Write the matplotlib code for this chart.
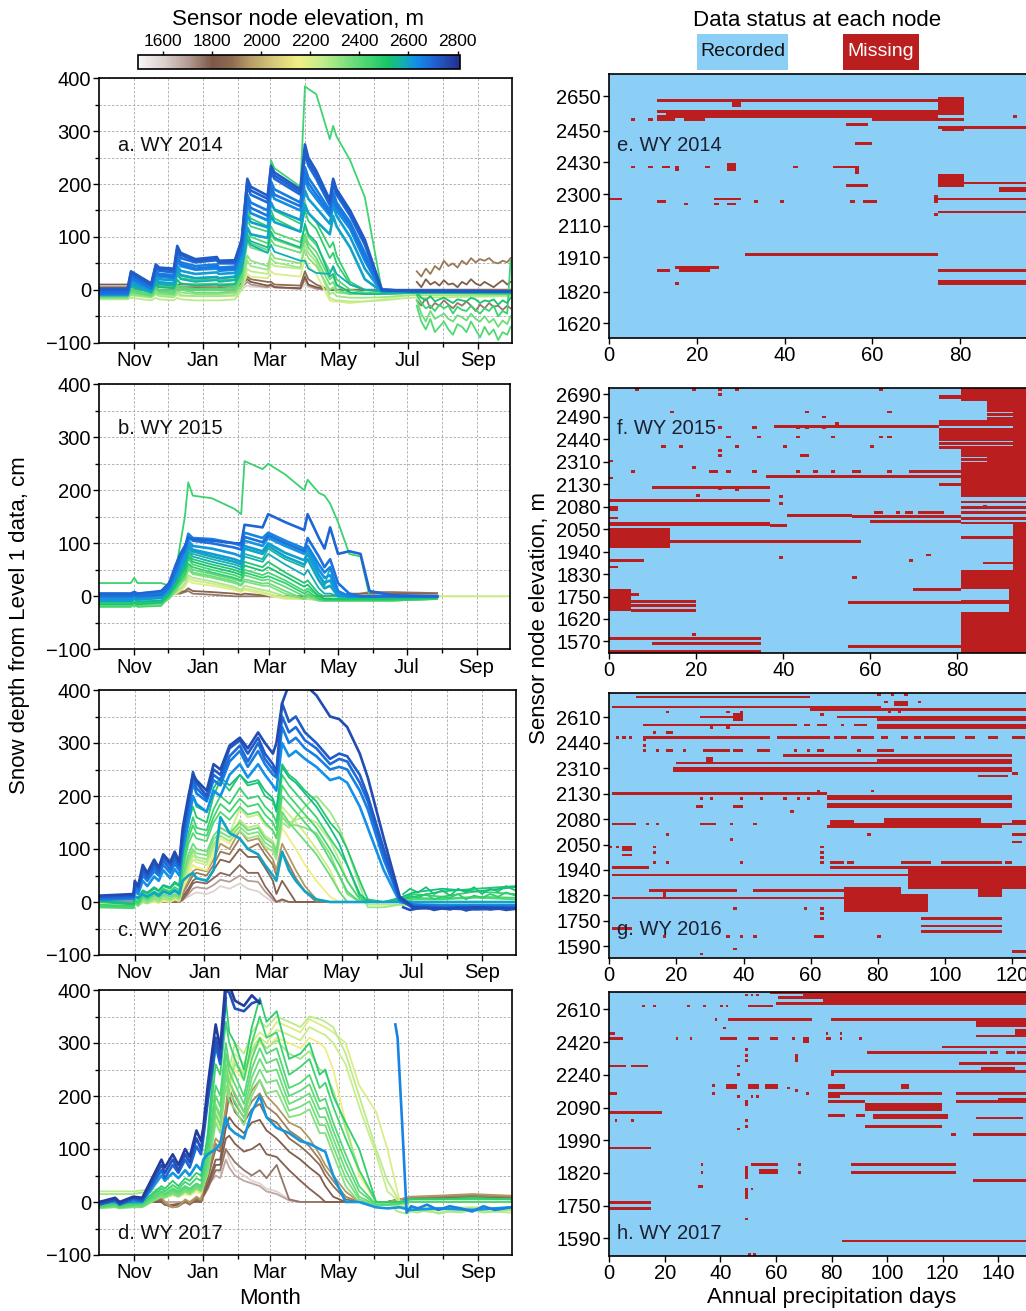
import numpy as np
import matplotlib
matplotlib.use('Agg')
import matplotlib.pyplot as plt
from matplotlib.colors import LinearSegmentedColormap, ListedColormap, Normalize
from matplotlib.patches import Rectangle
from matplotlib.ticker import FixedLocator, MultipleLocator

plt.rcParams['font.family'] = ['Liberation Sans', 'DejaVu Sans']
N = None

# ---------------- snow depth series (day of water year, cm) ----------------
wy14_days = [0, 25, 28, 46, 50, 53, 66, 69, 72, 85, 104, 106, 120, 126, 131, 134,
             149, 152, 155, 178, 182, 185, 192, 204, 207, 210, 222, 235, 250, 275, 364]
wy14_elev = [1600, 1720, 1800, 1880, 2200, 2260, 2300, 2330, 2380, 2400, 2420, 2450,
             2470, 2480, 2540, 2580, 2600, 2610, 2640, 2660, 2670, 2690, 2710, 2720]
wy14_depth = [
    [0, 0, 0, 0, 0, 0, 0, 0, 0, 0, 0, 0, 0, 2, 8, 6, 4, 6, 4, 2, 10, 5, 2, 0, 0, 0, 0, 0, 0, 0, 0],
    [0, 0, 0, 0, 0, 0, 0, 0, 0, 0, 0, 0, 0, 5, 15, 10, 5, 8, 5, 2, 20, 8, 2, 0, 0, 0, 0, 0, 0, 0, 0],
    [10, 10, 10, 10, 10, 10, 10, 10, 10, 10, 10, 10, 10, 12, 20, 15, 8, 10, 5, 3, 25, 10, 5, 0, 0, 0, 0, 0, 0, 0, 0],
    [5, 5, 5, 5, 5, 5, 5, 5, 5, 5, 5, 5, 5, 10, 25, 20, 15, 15, 10, 8, 35, 20, 10, 0, 0, 0, 0, 0, 0, 0, 0],
    [-10, -10, -10, -12, -8, -10, -12, -10, -12, -12, -12, -12, -12, 0, 30, 25, 22, 35, 30, 25, 60, 45, 30, -20, -22, -22, -25, -22, -18, -10, -10],
    [-18, -18, -15, -20, -15, -18, -20, -15, -18, -20, -20, -20, -18, 0, 40, 35, 30, 50, 45, 40, 100, 80, 60, -15, -18, -20, -22, -22, -20, -15, -12],
    [-15, -15, -10, -15, -8, -12, -14, -6, -10, -12, -12, -12, -10, 5, 55, 45, 38, 60, 52, 42, 85, 70, 52, -8, -5, -12, -15, -15, -14, -10, -10],
    [-12, -12, -8, -12, -5, -8, -10, -2, -5, -8, -8, -8, -6, 10, 65, 55, 45, 70, 60, 50, 75, 60, 45, 0, 5, -5, -8, -8, -8, -6, -6],
    [-15, -15, -5, -12, 0, -5, -8, 5, 0, -5, -5, -5, -3, 20, 90, 80, 70, 95, 85, 70, 95, 80, 60, 10, 15, 0, -8, -8, -8, -6, -6],
    [-12, -12, -3, -10, 2, -3, -5, 8, 3, 0, 0, 0, 2, 25, 100, 88, 75, 105, 95, 78, 105, 88, 72, 20, 25, 8, -6, -7, -7, -6, -6],
    [-10, -10, 0, -8, 5, 0, -2, 10, 5, 2, 3, 2, 5, 30, 115, 100, 88, 120, 108, 90, 120, 100, 85, 35, 40, 20, 0, -5, -5, -5, -5],
    [0, 0, 5, -2, 10, 5, 5, 20, 12, 10, 12, 10, 12, 40, 130, 120, 110, 245, 230, 195, 385, 380, 370, 285, 310, 290, 245, 175, 0, -5, -8],
    [-3, -3, 12, 0, 20, 15, 12, 35, 26, 22, 25, 22, 24, 50, 160, 145, 130, 165, 150, 125, 165, 145, 128, 80, 90, 65, 15, 0, -3, -4, -5],
    [-5, -5, 10, -3, 18, 12, 10, 30, 22, 18, 20, 18, 20, 45, 150, 135, 120, 150, 135, 110, 150, 130, 115, 60, 70, 50, 10, 0, -3, -4, -5],
    [-8, -8, 5, -5, 10, 5, 3, 18, 12, 8, 10, 8, 10, 35, 105, 92, 80, 110, 98, 80, 125, 105, 90, 25, 30, 10, -5, -8, -8, -6, -6],
    [-6, -6, 8, -5, 15, 10, 8, 28, 20, 15, 18, 15, 18, 40, 95, 85, 70, 85, 72, 55, 55, 40, 32, 30, 45, 30, 10, 0, -2, -3, -3],
    [-5, -5, 12, -2, 20, 14, 12, 38, 28, 22, 24, 22, 25, 50, 118, 105, 98, 140, 128, 110, 160, 145, 130, 105, 140, 120, 80, 20, -3, -3, -4],
    [-10, -10, 15, 0, 25, 20, 18, 45, 36, 30, 33, 30, 32, 60, 140, 128, 118, 165, 152, 132, 188, 172, 155, 125, 160, 140, 100, 40, -3, -3, -4],
    [-8, -8, 20, 2, 30, 25, 22, 55, 45, 38, 40, 36, 38, 70, 160, 145, 132, 185, 172, 150, 210, 192, 172, 140, 172, 150, 115, 55, -2, -3, -3],
    [-6, -6, 25, 5, 35, 30, 28, 62, 52, 45, 48, 42, 44, 80, 180, 165, 150, 205, 190, 165, 232, 212, 190, 150, 185, 165, 128, 70, 0, -2, -3],
    [-7, -7, 22, 3, 32, 28, 25, 58, 48, 40, 44, 40, 40, 75, 170, 155, 140, 195, 180, 158, 220, 202, 180, 145, 178, 158, 122, 62, -1, -2, -3],
    [-4, -4, 28, 8, 40, 36, 33, 72, 60, 52, 56, 50, 50, 88, 195, 180, 165, 222, 210, 180, 258, 235, 210, 160, 200, 180, 140, 85, 0, -2, -3],
    [0, 0, 32, 10, 45, 40, 37, 78, 66, 55, 58, 52, 53, 92, 205, 188, 172, 230, 216, 185, 265, 242, 218, 165, 205, 185, 145, 90, 0, -2, -3],
    [2, 2, 35, 12, 48, 42, 40, 83, 70, 58, 62, 55, 56, 95, 210, 195, 178, 235, 222, 190, 275, 250, 225, 170, 210, 190, 150, 95, 0, -2, -3],
]
wy14_late_days = [281, 285, 289, 293, 297, 301, 305, 309, 313, 317, 321, 325, 329,
                  333, 337, 341, 345, 349, 353, 357, 361, 364]
wy14_late_elev = [1760, 1820, 1900, 2380, 2420, 2460, 2520]
wy14_late_depth = [
    [-20, -30, -15, -35, -25, -30, -20, -28, -35, -25, -30, -22, -30, -40, -28, -35, -25, -32, -30, -38, -30, -35],
    [15, 5, 20, 10, 15, 8, 18, 10, 12, 5, 15, 10, 20, 12, 8, 15, 10, 5, 12, 18, 10, 15],
    [35, 25, 40, 30, 45, 38, 55, 45, 50, 42, 55, 48, 60, 52, 58, 55, 60, 52, 50, 55, 52, 60],
    [-20, -45, -60, -40, -55, -50, -45, -55, -60, -48, -52, -58, -45, -55, -60, -50, -62, -55, -70, -58, -65, -50],
    [-30, -60, -75, -55, -80, -70, -60, -75, -85, -65, -70, -80, -60, -75, -90, -70, -85, -75, -95, -80, -85, -70],
    [-10, -25, -35, -30, -40, -28, -35, -30, -45, -32, -38, -40, -30, -38, -45, -35, -40, -30, -50, -40, -45, 55],
    [-5, -15, -20, -12, -22, -18, -15, -20, -25, -18, -20, -22, -15, -18, -25, -20, -22, -18, -28, -20, -25, -15],
]

wy15_days = [0, 28, 31, 34, 55, 62, 68, 72, 76, 79, 83, 100, 120, 126, 129, 145,
             150, 165, 182, 185, 195, 200, 205, 212, 222, 232, 240, 260, 300, 364]
wy15_elev = [1760, 1850, 2180, 2230, 2280, 2350, 2380, 2400, 2440, 2460, 2470, 2500,
             2520, 2560, 2580, 2600, 2610, 2620, 2650, 2680, 2700]
wy15_depth = [
    [0, 0, 0, 0, 0, 2, 5, 5, 8, 10, 5, 3, 0, 0, 0, 0, 0, 0, 0, 0, 0, 0, 0, 2, 5, 5, 8, 8, 6, N],
    [0, 0, 0, 0, 0, 2, 5, 8, 10, 15, 10, 8, 5, 3, 5, 2, 0, 0, 0, 0, 0, 0, 0, 0, 2, 5, 5, 5, 5, N],
    [-5, -5, -5, -5, -5, 0, 5, 10, 18, 30, 25, 20, 12, 8, 12, 5, 2, -5, -5, -5, -5, -5, -5, -5, -5, -3, -3, -2, 0, 0],
    [-3, -3, -3, -3, -3, 2, 6, 12, 20, 35, 30, 24, 15, 10, 15, 8, 5, -3, -5, -5, -5, -5, -5, -5, -5, -3, -3, -2, 0, 0],
    [-8, -8, -8, -8, -8, 0, 8, 15, 25, 40, 35, 28, 18, 12, 20, 12, 10, 0, -5, -5, -8, -8, -8, -8, -8, -8, -8, -8, -5, N],
    [-15, -15, -20, -15, -15, -5, 10, 22, 32, 50, 42, 35, 25, 20, 28, 20, 20, 5, -5, 0, -8, -8, -8, -8, -8, -8, -8, -8, -5, N],
    [-18, -18, -15, -18, -15, -3, 12, 25, 35, 55, 45, 38, 28, 22, 32, 24, 25, 10, -5, 0, -8, -8, -8, -8, -8, -8, -8, -8, -5, N],
    [-10, -10, -8, -10, -10, -2, 15, 28, 40, 60, 50, 42, 32, 28, 40, 30, 32, 18, 0, 5, -5, -5, -5, -5, -5, -5, -5, -5, -2, N],
    [-20, -20, -15, -20, -18, 0, 20, 35, 48, 70, 60, 50, 40, 35, 50, 40, 45, 30, 10, 15, 0, -5, -5, -5, -5, -5, -5, -5, -3, N],
    [25, 25, 35, 25, 25, 20, 50, 100, 150, 215, 190, 185, 165, 155, 255, 240, 250, 230, 200, 220, 195, 190, 175, 140, 80, 75, 0, 0, 0, N],
    [-12, -12, -10, -12, -10, 2, 18, 30, 42, 62, 55, 45, 35, 30, 45, 35, 38, 25, 5, 10, -5, -8, -8, -8, -8, -8, -8, -8, -5, N],
    [-5, -5, -5, -5, -3, 5, 25, 40, 55, 80, 70, 60, 50, 45, 65, 55, 65, 45, 25, 30, 5, 0, 0, 0, -3, -3, -3, -3, -3, N],
    [-15, -15, -12, -15, -12, 3, 22, 38, 52, 75, 65, 55, 45, 40, 58, 48, 55, 38, 18, 22, 0, -5, -5, -5, -5, -5, -5, -5, -3, N],
    [-10, -10, -5, -10, -8, 8, 30, 50, 65, 90, 80, 70, 60, 55, 80, 70, 90, 70, 55, 90, 40, 20, 55, 5, 0, 0, 0, 0, 0, N],
    [0, 0, 2, 0, 2, 10, 30, 45, 60, 85, 75, 65, 55, 50, 75, 65, 80, 60, 40, 50, 15, 5, 5, 0, 0, 0, 0, 0, 0, N],
    [5, 5, 8, 5, 8, 20, 40, 55, 70, 95, 85, 75, 65, 60, 90, 80, 95, 75, 60, 70, 30, 15, 20, 0, 0, 0, 0, 0, 0, N],
    [-8, -8, -3, -6, -3, 12, 35, 55, 72, 98, 88, 80, 70, 65, 95, 85, 100, 82, 68, 80, 40, 25, 30, 2, 0, 0, 0, 0, 0, N],
    [-5, -5, 0, -3, 0, 15, 35, 60, 80, 105, 95, 90, 80, 75, 105, 95, 110, 95, 80, 90, 50, 35, 40, 5, 0, 0, 0, 0, 0, N],
    [0, 0, 5, 2, 5, 20, 45, 70, 90, 118, 110, 108, 100, 95, 120, 110, 120, 105, 90, 95, 60, 45, 55, 10, 0, 0, 0, 0, 0, N],
    [0, 0, 3, 0, 3, 18, 50, 72, 88, 112, 105, 100, 92, 88, 112, 102, 115, 100, 85, 110, 75, 55, 70, 25, 5, 0, 0, 0, 0, N],
    [5, 5, 8, 5, 10, 25, 60, 80, 95, 110, 108, 105, 100, 100, 135, 130, 155, 140, 125, 155, 110, 90, 130, 80, 85, 80, 10, 2, 0, N],
]

wy16_days = [0, 30, 31, 34, 38, 42, 48, 52, 56, 62, 66, 70, 73, 78, 82, 85, 94, 100,
             106, 114, 123, 130, 139, 145, 152, 155, 160, 166, 172, 180, 190, 202,
             210, 217, 228, 235, 249, 263, 275, 300, 330, 364]
wy16_elev = [1600, 1700, 1780, 1840, 1900, 1950, 2150, 2220, 2260, 2300, 2340, 2380,
             2420, 2440, 2460, 2500, 2540, 2600, 2630, 2660, 2690, 2720, 2750]
wy16_depth = [
    [0, 0, 0, 0, 0, 0, 0, 0, 0, 0, 0, 0, 5, 10, 15, 18, 15, 20, 30, 25, 35, 25, 20, 10, 0, 0, 5, 0, 0, 0, 0, 0, 0, 0, 0, 0, 0, 0, 0, 0, 0, 0],
    [0, 0, 0, 0, 0, 0, 0, 0, 0, 0, 0, 0, 3, 15, 25, 28, 25, 32, 42, 38, 50, 40, 38, 20, 5, 0, 3, 0, 0, 0, 0, 0, 0, 0, 0, 0, 0, 0, 0, 0, 0, 0],
    [0, 0, 0, 0, 0, 0, 0, 0, 0, 0, 0, 0, 5, 20, 35, 38, 35, 45, 55, 50, 70, 55, 55, 30, 10, 0, 5, 0, 0, 0, 0, 0, 0, 0, 0, 0, 0, 0, 0, 0, 0, 0],
    [0, 0, 0, 0, 0, 0, 0, 0, 0, 0, 0, 0, 10, 25, 40, 45, 40, 60, 80, 75, 100, 85, 85, 65, 40, 15, 40, 20, 0, 0, 0, 0, 0, 0, 0, 0, 0, 0, 0, 0, 0, 0],
    [0, 0, 0, 0, 0, 0, 0, 0, 0, 0, 2, 0, 15, 35, 50, 55, 50, 70, 95, 90, 120, 100, 110, 90, 70, 50, 95, 70, 45, 20, 0, 0, 0, 0, 0, 0, 0, 0, 0, 0, 0, 0],
    [0, 0, 0, 0, 0, 0, 0, 0, 0, 0, 3, 0, 18, 40, 58, 62, 58, 80, 110, 100, 135, 115, 120, 100, 80, 60, 110, 85, 60, 30, 5, 0, 0, 0, 0, 0, 0, 0, 0, 0, 0, 0],
    [-3, -3, -2, -3, 0, -2, 0, -2, 2, 0, 5, 2, 25, 50, 70, 65, 60, 90, 120, 110, 150, 140, 145, 125, 110, 90, 140, 120, 100, 70, 40, 10, 0, 0, 0, 0, 0, 0, 0, 0, 0, 0],
    [-5, -5, -2, -5, 0, -2, 2, 0, 5, 2, 8, 3, 30, 60, 80, 75, 70, 100, 140, 130, 175, 160, 165, 145, 135, 120, 180, 165, 150, 130, 100, 60, 20, 0, 0, 0, 0, 0, 0, 0, 0, 0],
    [-8, -8, -4, -6, 0, -2, 4, 0, 6, 2, 9, 4, 35, 68, 88, 80, 75, 105, 132, 122, 155, 140, 145, 125, 115, 100, 165, 150, 155, 160, 150, 115, 80, 40, 5, -5, -5, -5, -5, -5, -5, -5],
    [-10, -10, -5, -8, 0, -3, 5, 0, 8, 3, 10, 5, 40, 75, 95, 85, 80, 110, 125, 115, 135, 120, 125, 105, 95, 80, 150, 140, 160, 180, 200, 170, 140, 100, 30, -10, -10, -5, -5, -5, -5, -5],
    [-10, -10, -3, -6, 4, 0, 8, 4, 12, 6, 12, 8, 45, 82, 100, 92, 88, 118, 132, 122, 142, 128, 132, 112, 102, 88, 160, 145, 145, 140, 130, 90, 50, 15, 0, 0, 0, 0, 0, 0, 0, 0],
    [-8, -10, 0, -3, 8, 3, 12, 8, 15, 10, 15, 10, 50, 90, 110, 100, 95, 125, 140, 130, 150, 135, 140, 120, 110, 95, 170, 150, 135, 115, 90, 50, 20, 0, 0, 0, 0, 0, 0, 0, 0, 0],
    [-10, -12, 0, -5, 10, 5, 15, 10, 20, 15, 20, 15, 60, 110, 130, 120, 115, 150, 170, 155, 180, 165, 170, 150, 135, 120, 200, 185, 170, 150, 125, 80, 50, 20, 0, 0, 0, 0, 5, 5, 8, 5],
    [-8, -10, 3, -2, 12, 8, 18, 12, 22, 18, 24, 18, 70, 120, 145, 130, 125, 160, 185, 170, 195, 180, 185, 165, 150, 135, 220, 200, 185, 165, 140, 100, 70, 40, 5, 0, 0, 3, 8, 6, 10, 8],
    [-5, -8, 5, 0, 15, 10, 20, 15, 25, 20, 28, 22, 80, 130, 160, 140, 135, 175, 200, 185, 215, 195, 200, 180, 165, 150, 240, 220, 205, 185, 160, 120, 95, 70, 10, 0, 0, 5, 15, 10, 20, 15],
    [0, -5, 10, 5, 20, 15, 25, 20, 30, 25, 35, 30, 100, 150, 180, 160, 150, 200, 230, 210, 240, 220, 225, 200, 190, 170, 260, 240, 230, 210, 190, 150, 130, 100, 40, 5, 0, 5, 10, 20, 25, 30],
    [2, -3, 12, 8, 22, 18, 28, 22, 32, 28, 38, 32, 110, 165, 200, 180, 170, 215, 235, 220, 240, 225, 230, 210, 195, 175, 255, 235, 225, 205, 180, 140, 110, 70, 15, 2, 0, 8, 18, 25, 20, 28],
    [5, 5, 10, 8, 15, 10, 18, 12, 20, 15, 22, 15, 40, 50, 55, 45, 40, 60, 160, 130, 120, 100, 90, 70, 50, 40, 95, 60, 40, 20, 5, 0, 0, 0, 0, 0, 0, 0, 0, 0, 0, 0],
    [4, 6, 20, 15, 40, 30, 48, 40, 60, 45, 62, 50, 95, 150, 200, 185, 170, 210, 200, 240, 260, 235, 260, 240, 220, 210, 300, 275, 285, 270, 255, 230, 235, 225, 180, 140, 60, 0, -5, -6, -6, -6],
    [5, 8, 25, 20, 50, 40, 58, 50, 70, 55, 72, 60, 110, 170, 225, 205, 190, 230, 220, 265, 285, 255, 285, 260, 240, 235, 330, 300, 310, 290, 275, 250, 255, 250, 210, 175, 80, 5, -5, -8, -8, -8],
    [8, 10, 30, 25, 55, 45, 65, 55, 78, 62, 80, 65, 120, 180, 235, 215, 195, 240, 230, 275, 295, 265, 300, 270, 250, 240, 350, 320, 330, 305, 290, 260, 270, 265, 225, 190, 90, 5, -8, -10, -10, -10],
    [10, 12, 35, 28, 62, 50, 72, 60, 85, 70, 88, 70, 130, 190, 245, 225, 200, 250, 240, 290, 305, 280, 310, 280, 260, 245, 375, 340, 350, 320, 300, 270, 280, 275, 240, 200, 100, 5, -12, -12, -14, -12],
    [12, 15, 40, 30, 70, 55, 80, 65, 90, 75, 95, 75, 140, 200, 240, 230, 210, 260, 250, 295, 310, 290, 320, 300, 280, 300, 375, 410, 420, 410, 390, 350, 345, 330, 280, 235, 120, 10, -10, -12, -10, -12],
]
wy16_late_days = [266, 272, 279, 286, 293, 300, 307, 314, 321, 328, 335, 342, 349, 356, 364]
wy16_late_elev = [2480, 2520, 2740]
wy16_late_depth = [
    [5, 12, 8, 15, 5, 10, 8, 15, 5, 12, 8, 15, 10, 18, 12],
    [15, 25, 18, 28, 15, 22, 12, 25, 18, 28, 15, 25, 20, 30, 22],
    [-10, -15, -12, -10, -15, -12, -14, -10, -16, -12, -10, -14, -12, -15, -13],
]

wy17_days = [0, 14, 18, 30, 38, 55, 58, 65, 70, 76, 80, 86, 90, 92, 96, 103, 107, 112,
             115, 120, 128, 135, 142, 148, 157, 168, 178, 186, 195, 200, 207, 218,
             230, 245, 255, 266, 275, 300, 330, 364]
wy17_elev = [1600, 1680, 1760, 1790, 1820, 1880, 1910, 1950, 2150, 2200, 2230, 2260,
             2300, 2340, 2360, 2380, 2400, 2420, 2450, 2480, 2620, 2700, 2740, 2780]
wy17_depth = [
    [0, 0, 0, 0, 0, 0, 0, 0, 0, 0, 0, 5, 0, 20, 40, 60, 55, 100, 80, 60, 50, 40, 35, 25, 20, 5, 0, 0, 0, 0, 0, 0, 0, 0, 0, 0, 0, 0, 0, 0],
    [0, 0, 0, 0, 0, 0, 0, 0, 0, 0, 0, 3, 0, 15, 30, 50, 45, 80, 65, 50, 40, 35, 30, 20, 15, 3, 0, 0, 0, 0, 0, 0, 0, 0, 0, 0, 0, 0, 0, 0],
    [0, 0, 0, 0, 0, 0, -5, -5, -3, 0, 0, 0, 0, 10, 25, 60, 60, 100, 90, 75, 60, 50, 60, 45, 70, 5, 0, 0, 0, 0, 0, 0, 0, 0, 0, 5, 5, 8, 10, 8],
    [0, 0, 0, 0, 0, 0, -5, -6, -4, 0, -2, 2, 0, 12, 30, 70, 70, 120, 125, 110, 95, 100, 110, 90, 85, 60, 40, 25, 10, 0, 0, 0, 0, 0, 0, 5, 6, 8, 8, 8],
    [0, 0, 0, 0, 0, 2, -5, -8, -5, 0, -3, 3, 0, 15, 35, 80, 80, 140, 160, 145, 130, 150, 155, 135, 120, 95, 80, 65, 50, 30, 10, 0, 0, 0, 0, 5, 8, 10, 10, 10],
    [0, 0, 0, 0, 0, 5, -5, -10, -8, 0, -5, 5, 0, 20, 45, 100, 95, 160, 200, 170, 150, 175, 185, 160, 150, 120, 105, 90, 70, 50, 30, 5, 0, 0, 0, 5, 8, 10, 12, 10],
    [0, 0, 0, 0, 0, 8, -3, -10, -8, 3, -3, 8, 3, 25, 52, 110, 100, 170, 215, 185, 160, 190, 205, 180, 165, 135, 120, 105, 80, 60, 40, 10, 0, 0, 0, 5, 8, 10, 12, 10],
    [0, 0, 0, 0, 0, 10, 0, -10, -8, 5, 0, 10, 5, 30, 60, 120, 110, 180, 230, 200, 170, 210, 230, 200, 180, 150, 140, 120, 90, 70, 50, 20, 0, 0, 0, 5, 10, 12, 15, 12],
    [-8, -8, -8, -8, -8, 10, 8, 12, 10, 15, 12, 20, 15, 30, 55, 160, 140, 220, 200, 250, 230, 280, 300, 290, 310, 300, 290, 310, 300, 290, 250, 150, 50, 0, -5, -8, -10, -12, -10, -12],
    [-5, -5, -5, -5, -5, 15, 12, 18, 15, 22, 18, 28, 22, 40, 70, 180, 160, 250, 230, 280, 260, 300, 320, 310, 340, 330, 320, 345, 335, 330, 320, 300, 220, 170, 100, 0, -10, -15, -12, -15],
    [-5, -5, -5, -5, -5, 12, 10, 15, 12, 18, 15, 24, 18, 35, 62, 170, 150, 240, 215, 265, 245, 290, 310, 300, 325, 315, 305, 330, 320, 315, 300, 260, 180, 90, 20, 0, -10, -12, -10, -12],
    [20, 20, 20, 20, 22, 25, 20, 28, 22, 30, 25, 35, 30, 45, 80, 200, 180, 270, 250, 300, 280, 320, 340, 330, 350, 340, 330, 350, 345, 340, 330, 280, 200, 100, 40, 0, -15, -20, -15, -20],
    [15, 15, 15, 15, 18, 20, 16, 24, 18, 26, 22, 30, 26, 40, 72, 185, 165, 250, 225, 260, 240, 285, 305, 290, 305, 280, 270, 285, 250, 245, 210, 140, 60, 0, -5, -8, -12, -15, -12, -15],
    [-12, -10, -12, -10, -10, 10, 8, 15, 10, 20, 15, 25, 20, 30, 55, 150, 130, 220, 190, 175, 145, 200, 230, 205, 210, 160, 165, 175, 130, 130, 90, 30, 0, -5, -5, -3, 0, 0, 0, 0],
    [-10, -8, -10, -8, -8, 12, 10, 18, 12, 22, 18, 28, 22, 35, 62, 165, 145, 240, 205, 190, 158, 218, 250, 225, 230, 172, 180, 190, 145, 145, 105, 45, 5, -5, -5, -3, 0, 0, 0, 0],
    [-10, -8, -10, -8, -8, 15, 12, 20, 15, 25, 20, 30, 25, 40, 70, 180, 160, 260, 225, 205, 170, 235, 270, 245, 250, 185, 195, 205, 160, 160, 120, 60, 10, -5, -5, -3, 0, 0, 0, 0],
    [-10, -6, -10, -6, -6, 18, 14, 22, 18, 28, 22, 32, 28, 45, 80, 200, 180, 280, 245, 222, 185, 252, 290, 262, 270, 200, 210, 222, 175, 178, 135, 75, 20, -5, -5, -3, 0, 0, 0, 0],
    [-10, -5, -10, -5, -5, 20, 15, 25, 20, 30, 25, 35, 30, 50, 90, 220, 200, 300, 260, 240, 200, 270, 310, 280, 290, 215, 225, 240, 190, 195, 150, 90, 30, -5, -5, -3, 0, 0, 0, 0],
    [-8, -3, -8, -3, -3, 25, 20, 32, 25, 38, 32, 45, 40, 60, 110, 260, 240, 340, 300, 270, 230, 300, 350, 310, 320, 240, 255, 270, 215, 225, 180, 120, 60, 0, 0, 0, 5, 5, 5, 5],
    [-5, 0, -5, 0, 0, 30, 25, 40, 30, 45, 40, 55, 50, 70, 130, 300, 280, 380, 320, 300, 250, 330, 385, 340, 360, 270, 280, 300, 240, 250, 200, 150, 100, 0, 0, 0, 5, 5, 8, 5],
    [0, 0, 0, 0, 0, 50, 40, 55, 45, 60, 50, 70, 60, 80, 90, 100, 110, 160, 140, 130, 120, 170, 200, 160, 140, 130, 115, 110, 100, 95, 50, 0, 0, -10, -12, -10, -15, -12, -15, -10],
    [-5, 3, -5, 5, 2, 60, 45, 70, 55, 80, 65, 105, 90, 120, 190, 295, 260, 385, N, N, N, N, N, N, N, N, N, N, N, N, N, N, N, N, N, N, N, N, N, N],
    [-3, 5, -3, 8, 5, 70, 55, 80, 60, 90, 75, 120, 100, 130, 200, 310, 270, 400, 395, 365, 360, 375, 380, N, N, N, N, N, N, N, N, N, N, N, N, N, N, N, N, N],
    [0, 8, 0, 10, 8, 80, 65, 90, 70, 100, 85, 135, 115, 140, 220, 335, 290, 420, 410, 380, 370, 390, 375, N, N, N, N, N, N, N, N, N, N, N, N, N, N, N, N, N],
]
wy17_late_days = [262, 264, 268, 272, 276, 282, 290, 300, 310, 320, 330, 340, 350, 364]
wy17_late_elev = [2280, 2650]
wy17_late_depth = [
    [-15, -18, -20, -22, -18, -20, -15, -22, -18, -20, -15, -20, -18, -15],
    [335, 310, 150, -20, -8, -12, -5, -15, -8, -12, -18, -8, -15, -10],
]

# ---------------- data status grids: (row_start, row_end, day_start, day_end) ----------------
wy14_rows, wy14_ndays = 100, 114
wy14_ticks = [8, 21, 33, 45, 57, 69, 82, 94]
wy14_labels = ['2650', '2450', '2430', '2300', '2110', '1910', '1820', '1620']
wy14_gaps = [
    (10, 11, 11, 75), (9, 16, 75, 81), (11, 13, 28, 30), (14, 15, 11, 75), (15, 17, 13, 75),
    (16, 18, 11, 15), (17, 18, 17, 22), (17, 18, 60, 75), (17, 18, 75, 81), (19, 20, 54, 59),
    (20, 21, 75, 114), (21, 22, 76, 81), (26, 27, 56, 60), (35, 36, 12, 14), (35, 37, 15, 16),
    (34, 37, 27, 29), (35, 36, 51, 57), (36, 38, 56, 57), (38, 43, 75, 81), (41, 42, 81, 114),
    (42, 43, 54, 59), (43, 45, 89, 114), (47, 48, 0, 3), (47, 48, 24, 30), (47, 48, 75, 114),
    (46, 49, 74, 75), (48, 49, 11, 13), (48, 49, 58, 61), (49, 50, 27, 29), (52, 53, 75, 114),
    (68, 69, 31, 75), (73, 74, 15, 25), (74, 75, 11, 14), (74, 75, 16, 23), (74, 75, 75, 114),
    (78, 80, 75, 114),
]
wy14_dots = [(17, 5), (17, 9), (16, 92), (35, 5), (35, 9), (35, 22), (35, 42), (48, 33),
             (48, 39), (48, 55), (49, 17), (49, 24), (53, 74), (79, 15)]

wy15_rows, wy15_ndays = 200, 115
wy15_ticks = [4, 21, 38, 55, 72, 89, 106, 123, 140, 157, 174, 191]
wy15_labels = ['2690', '2490', '2440', '2310', '2130', '2080', '2050', '1940', '1830',
               '1750', '1620', '1570']
wy15_gaps = [
    (0, 10, 81, 115), (5, 8, 76, 81), (10, 18, 87, 115), (18, 19, 93, 115), (19, 21, 87, 115),
    (21, 22, 93, 115), (22, 24, 87, 115), (24, 29, 76, 115), (29, 30, 93, 115), (30, 40, 76, 115),
    (40, 41, 93, 115), (41, 43, 76, 115), (43, 44, 93, 115), (44, 46, 76, 115), (46, 52, 81, 115),
    (52, 53, 87, 115), (53, 55, 81, 115), (55, 56, 87, 115), (56, 82, 81, 115), (72, 74, 76, 81),
    (85, 87, 81, 115), (89, 91, 81, 115), (93, 95, 81, 115), (97, 100, 81, 115), (101, 103, 81, 115),
    (103, 137, 93, 115), (112, 114, 81, 93), (131, 133, 86, 93), (137, 152, 81, 115),
    (152, 160, 92, 115), (160, 163, 81, 115), (163, 169, 92, 115), (169, 200, 81, 115),
    (106, 121, 0, 14), (115, 117, 14, 58), (101, 104, 0, 37), (103, 105, 37, 41), (84, 86, 0, 37),
    (74, 76, 10, 37), (66, 68, 36, 81), (62, 64, 69, 81), (28, 30, 38, 76), (95, 97, 41, 56),
    (96, 98, 56, 81), (100, 102, 60, 81), (93, 95, 61, 63), (93, 95, 66, 67), (93, 95, 68, 70),
    (93, 95, 71, 77), (152, 168, 0, 5), (155, 157, 5, 7), (160, 162, 5, 20), (161, 163, 55, 92),
    (163, 165, 5, 20), (167, 169, 5, 20), (151, 153, 70, 81), (188, 190, 0, 35), (192, 194, 10, 35),
    (194, 196, 55, 81), (198, 200, 0, 35), (129, 131, 0, 8), (134, 136, 0, 2), (89, 91, 0, 2),
    (91, 93, 0, 2), (97, 99, 0, 2),
]
wy15_dots = [(0, 6), (0, 19), (0, 25), (0, 29), (0, 62), (4, 25), (17, 14), (17, 45), (17, 64),
             (21, 49), (26, 52), (29, 25), (29, 33), (29, 43), (29, 45), (29, 49), (36, 27), (36, 34),
             (36, 43), (36, 51), (36, 62), (36, 64), (43, 12), (43, 16), (43, 29), (43, 40), (43, 60),
             (46, 25), (50, 25), (50, 44), (50, 45), (54, 0), (59, 19), (62, 5), (62, 23), (62, 24),
             (62, 27), (62, 33), (62, 43), (62, 47), (62, 51), (62, 56), (62, 57), (62, 64), (67, 0),
             (75, 25), (76, 29), (80, 20), (81, 39), (86, 39), (127, 39), (129, 69), (125, 73),
             (142, 56), (185, 19), (88, 86)]

wy16_rows, wy16_ndays = 104, 149
wy16_ticks = [9, 19, 29, 39, 49, 59, 69, 79, 89, 99]
wy16_labels = ['2610', '2440', '2310', '2130', '2080', '2050', '1940', '1820', '1750', '1590']
wy16_gaps = [
    (1, 2, 8, 60), (3, 5, 85, 89), (5, 6, 1, 60), (5, 7, 60, 81), (6, 7, 81, 149), (8, 11, 37, 40),
    (9, 10, 27, 37), (9, 10, 68, 80), (9, 11, 80, 149), (12, 13, 10, 56), (12, 13, 58, 60),
    (12, 13, 62, 65), (12, 13, 69, 70), (12, 13, 73, 77), (12, 14, 80, 149), (15, 16, 17, 19),
    (17, 18, 10, 48), (17, 18, 50, 66), (17, 18, 67, 71), (17, 18, 72, 79), (17, 18, 81, 83),
    (17, 18, 87, 89), (17, 18, 91, 93), (17, 18, 94, 103), (17, 18, 106, 109), (17, 18, 113, 116),
    (17, 18, 120, 124), (17, 18, 126, 149), (22, 23, 17, 19), (22, 23, 28, 36), (22, 23, 37, 40),
    (22, 23, 44, 48), (22, 23, 62, 64), (22, 23, 80, 85), (24, 25, 52, 120), (25, 27, 29, 31),
    (27, 28, 20, 120), (26, 28, 80, 120), (29, 31, 19, 120), (31, 32, 120, 122), (32, 33, 110, 119),
    (39, 40, 1, 65), (40, 42, 65, 120), (43, 45, 65, 120), (44, 45, 26, 28), (44, 45, 37, 40),
    (49, 51, 82, 111), (50, 51, 66, 73), (50, 52, 120, 149), (51, 52, 1, 8), (51, 52, 27, 32),
    (51, 52, 66, 120), (52, 53, 65, 117), (55, 56, 120, 149), (58, 59, 120, 123), (60, 61, 4, 7),
    (61, 62, 4, 7), (63, 64, 4, 7), (66, 67, 66, 70), (66, 67, 71, 73), (66, 67, 87, 96),
    (66, 67, 99, 117), (66, 67, 118, 120), (68, 69, 1, 12), (68, 69, 66, 89), (68, 72, 89, 149),
    (71, 72, 1, 89), (72, 77, 89, 149), (77, 78, 12, 38), (77, 78, 43, 70), (76, 79, 70, 87),
    (76, 80, 110, 117), (77, 80, 16, 17), (80, 81, 1, 70), (79, 86, 70, 95), (88, 89, 93, 117),
    (91, 92, 93, 117), (93, 94, 93, 117), (92, 93, 1, 7), (95, 96, 61, 64), (101, 102, 120, 149),
]
wy16_dots = [(0, 80), (0, 84), (0, 88), (3, 82), (3, 92), (7, 17), (7, 35), (7, 39), (7, 83),
             (7, 86), (8, 63), (13, 30), (13, 35), (15, 13), (17, 2), (17, 4), (17, 6), (18, 10),
             (20, 10), (22, 10), (22, 14), (22, 22), (22, 55), (22, 59), (22, 74), (38, 62), (38, 78),
             (41, 27), (41, 30), (41, 39), (41, 45), (41, 52), (41, 56), (41, 59), (46, 54), (51, 11),
             (51, 14), (51, 36), (51, 43), (55, 17), (55, 77), (57, 36), (60, 0), (60, 2), (60, 13),
             (62, 13), (60, 63), (62, 63), (64, 63), (66, 63), (66, 13), (66, 17), (66, 39), (84, 37),
             (84, 58), (84, 63), (86, 63), (88, 63), (95, 16), (95, 35), (95, 39), (95, 43),
             (95, 80), (100, 37), (102, 27)]

wy17_rows, wy17_ndays = 97, 180
wy17_ticks = [6, 18, 30, 42, 54, 66, 78, 90]
wy17_labels = ['2610', '2420', '2240', '2090', '1990', '1820', '1750', '1590']
wy17_gaps = [
    (0, 1, 58, 180), (1, 2, 70, 180), (2, 3, 61, 180), (3, 4, 77, 180), (4, 5, 60, 180),
    (5, 6, 50, 59), (10, 11, 43, 73), (10, 11, 80, 132), (10, 13, 132, 180), (15, 16, 0, 2),
    (14, 16, 146, 180), (16, 17, 132, 180), (17, 18, 0, 5), (17, 18, 40, 46), (17, 18, 50, 54),
    (17, 18, 58, 61), (17, 18, 70, 72), (17, 18, 78, 80), (18, 19, 70, 72), (20, 21, 120, 180),
    (23, 26, 67, 68), (22, 23, 93, 136), (22, 23, 137, 140), (22, 23, 143, 146), (22, 23, 147, 180),
    (26, 27, 126, 180), (27, 28, 0, 6), (27, 28, 8, 14), (28, 30, 134, 146), (29, 30, 80, 180),
    (34, 36, 42, 46), (34, 36, 50, 54), (34, 36, 56, 61), (34, 36, 79, 85), (34, 36, 105, 108),
    (37, 38, 0, 3), (37, 38, 79, 120), (37, 38, 125, 180), (38, 39, 79, 83), (39, 40, 140, 180),
    (40, 41, 79, 92), (40, 41, 125, 180), (40, 42, 49, 50), (41, 44, 92, 120), (44, 45, 0, 19),
    (45, 46, 79, 85), (45, 46, 89, 92), (45, 47, 95, 122), (46, 47, 132, 149), (49, 50, 92, 120),
    (52, 53, 123, 125), (52, 53, 131, 180), (57, 58, 0, 15), (63, 64, 51, 61), (63, 64, 87, 125),
    (65, 67, 54, 61), (66, 67, 87, 125), (64, 69, 49, 50), (69, 70, 131, 180), (71, 72, 32, 34),
    (72, 76, 49, 50), (72, 73, 51, 52), (77, 78, 0, 15), (79, 80, 0, 15), (91, 92, 84, 180),
]
wy17_dots = [(1, 49), (1, 51), (1, 53), (5, 12), (5, 16), (5, 28), (5, 34), (5, 40), (5, 42),
             (10, 38), (13, 41), (15, 78), (15, 83), (17, 24), (17, 29), (17, 66), (17, 83),
             (17, 90), (21, 49), (23, 49), (25, 49), (27, 46), (30, 46), (30, 80), (34, 37),
             (35, 64), (36, 67), (37, 37), (38, 46), (38, 51), (38, 53), (37, 71), (47, 2), (47, 8),
             (47, 49), (50, 46), (49, 49), (63, 33), (63, 68), (66, 33), (65, 49), (66, 68),
             (83, 49), (96, 50), (96, 52)]

# ---------------- styling ----------------
elev_min, elev_max = 1500, 2810
elev_stops = [(1500, '#f7f5f5'), (1600, '#dcd2d0'), (1700, '#b59c94'), (1800, '#7c5848'),
              (1880, '#8e6c52'), (1950, '#b39a66'), (2050, '#d4c97c'), (2150, '#f0ee84'),
              (2250, '#c2ec8c'), (2350, '#7ee07e'), (2450, '#3fd470'), (2520, '#18c46a'),
              (2580, '#12b0b0'), (2630, '#1290ea'), (2700, '#1f66d6'), (2810, '#23308c')]
elev_cmap = LinearSegmentedColormap.from_list(
    'elev', [((e - elev_min) / (elev_max - elev_min), c) for e, c in elev_stops])
norm = Normalize(elev_min, elev_max)
status_cmap = ListedColormap(['#8ccff6', '#bb1e1e'])

W, H = 1026, 1311
fig = plt.figure(figsize=(W / 100, H / 100), dpi=100)
TICK_FS = 14.5
LABEL_FS = 16


def px_axes(left, top, width, height):
    return fig.add_axes([left / W, 1 - (top + height) / H, width / W, height / H])


month_major = [31, 92, 151, 212, 273, 335]
month_minor = [61, 123, 182, 243, 304]
month_names = ['Nov', 'Jan', 'Mar', 'May', 'Jul', 'Sep']


def depth_panel(ax, days, elev, depth, late, label, label_y):
    series = [(e, days, d) for e, d in zip(elev, depth)]
    if late is not None:
        ldays, lelev, ldepth = late
        series += [(e, ldays, d) for e, d in zip(lelev, ldepth)]
    for e, x, y in sorted(series, key=lambda s: s[0]):
        lw = 1.9 if e >= 2600 else 1.3
        ax.plot(x, np.array(y, dtype=float), color=elev_cmap(norm(e)), lw=lw)
    ax.set_xlim(0, 365)
    ax.set_ylim(-100, 400)
    ax.xaxis.set_major_locator(FixedLocator(month_major))
    ax.xaxis.set_minor_locator(FixedLocator(month_minor))
    ax.set_xticklabels(month_names)
    ax.yaxis.set_major_locator(MultipleLocator(100))
    ax.yaxis.set_minor_locator(MultipleLocator(50))
    ax.grid(True, which='both', color='#a8a8a8', lw=0.6, ls=(0, (3, 2)))
    ax.set_axisbelow(True)
    ax.tick_params(which='both', direction='out', labelsize=TICK_FS, width=1, pad=2)
    ax.tick_params(which='major', length=4)
    ax.tick_params(which='minor', length=3)
    for sp in ax.spines.values():
        sp.set_linewidth(1.2)
    ax.text(0.045, label_y, label, transform=ax.transAxes, fontsize=TICK_FS, va='center',
            color='#111111')


def status_panel(ax, n_rows, n_days, gaps, dots, dot_rows, ticks, labels, last_tick,
                 label, label_y):
    grid = np.zeros((n_rows, n_days))
    for r0, r1, d0, d1 in gaps:
        grid[r0:r1, d0:d1] = 1
    for r, d in dots:
        grid[r:r + dot_rows, d:d + 1] = 1
    ax.imshow(grid, cmap=status_cmap, vmin=0, vmax=1, aspect='auto',
              interpolation='nearest', extent=[0, n_days, n_rows, 0])
    ax.set_yticks([t + 0.5 for t in ticks])
    ax.set_yticklabels(labels)
    ax.set_xticks(np.arange(0, last_tick + 1, 20))
    ax.tick_params(direction='out', labelsize=TICK_FS, length=4, width=1, pad=2)
    for sp in ax.spines.values():
        sp.set_linewidth(1.2)
    ax.text(0.016, label_y, label, transform=ax.transAxes, fontsize=TICK_FS, va='center',
            color='#1c2030')


ax_a = px_axes(99.3, 78.3, 412.4, 264.4)
ax_b = px_axes(99.3, 384.3, 411, 265)
ax_c = px_axes(99.3, 690, 417, 265)
ax_d = px_axes(99.3, 990, 412.4, 265)

depth_panel(ax_a, wy14_days, wy14_elev, wy14_depth,
            (wy14_late_days, wy14_late_elev, wy14_late_depth), 'a. WY 2014', 0.745)
depth_panel(ax_b, wy15_days, wy15_elev, wy15_depth, None, 'b. WY 2015', 0.834)
depth_panel(ax_c, wy16_days, wy16_elev, wy16_depth,
            (wy16_late_days, wy16_late_elev, wy16_late_depth), 'c. WY 2016', 0.094)
depth_panel(ax_d, wy17_days, wy17_elev, wy17_depth,
            (wy17_late_days, wy17_late_elev, wy17_late_depth), 'd. WY 2017', 0.083)

ax_e = px_axes(609.3, 74, 500, 264)
ax_f = px_axes(609.3, 388.3, 500, 264.4)
ax_g = px_axes(609.3, 693.3, 500, 264.4)
ax_h = px_axes(609.3, 991.7, 500, 264.3)

status_panel(ax_e, wy14_rows, wy14_ndays, wy14_gaps, wy14_dots, 1, wy14_ticks, wy14_labels, 80,
             'e. WY 2014', 0.729)
status_panel(ax_f, wy15_rows, wy15_ndays, wy15_gaps, wy15_dots, 2, wy15_ticks, wy15_labels, 80,
             'f. WY 2015', 0.849)
status_panel(ax_g, wy16_rows, wy16_ndays, wy16_gaps, wy16_dots, 1, wy16_ticks, wy16_labels, 120,
             'g. WY 2016', 0.105)
status_panel(ax_h, wy17_rows, wy17_ndays, wy17_gaps, wy17_dots, 1, wy17_ticks, wy17_labels, 140,
             'h. WY 2017', 0.087)

# elevation colour bar
cax = px_axes(138.3, 55, 321.7, 14)
sm = plt.cm.ScalarMappable(norm=norm, cmap=elev_cmap)
cb = fig.colorbar(sm, cax=cax, orientation='horizontal')
cb.set_ticks([1600, 1800, 2000, 2200, 2400, 2600, 2800])
cax.xaxis.set_ticks_position('top')
cax.tick_params(labelsize=12.5, length=3, width=1, pad=1)
cb.outline.set_linewidth(1.2)
fig.text(298 / W, 1 - 20 / H, 'Sensor node elevation, m', ha='center', va='center',
         fontsize=LABEL_FS)

# status legend
fig.text(817 / W, 1 - 20 / H, 'Data status at each node', ha='center', va='center',
         fontsize=LABEL_FS)
fig.patches.append(Rectangle((697 / W, 1 - 69.5 / H), 91 / W, 35.5 / H, transform=fig.transFigure,
                             fc='#8ccff6', ec='none'))
fig.patches.append(Rectangle((843 / W, 1 - 69.5 / H), 76 / W, 35.5 / H, transform=fig.transFigure,
                             fc='#bb1e1e', ec='none'))
fig.text(742.5 / W, 1 - 52 / H, 'Recorded', ha='center', va='center', fontsize=14,
         color='#111111')
fig.text(881 / W, 1 - 52 / H, 'Missing', ha='center', va='center', fontsize=14, color='white')

# axis titles
fig.text(20 / W, 1 - 625 / H, 'Snow depth from Level 1 data, cm', rotation=90,
         ha='center', va='center', fontsize=LABEL_FS)
fig.text(540 / W, 1 - 618 / H, 'Sensor node elevation, m', rotation=90,
         ha='center', va='center', fontsize=LABEL_FS)
fig.text(270 / W, 1 - 1298 / H, 'Month', ha='center', va='center', fontsize=LABEL_FS)
fig.text(832 / W, 1 - 1298 / H, 'Annual precipitation days', ha='center', va='center',
         fontsize=LABEL_FS)

fig.savefig('out.png', dpi=100)
